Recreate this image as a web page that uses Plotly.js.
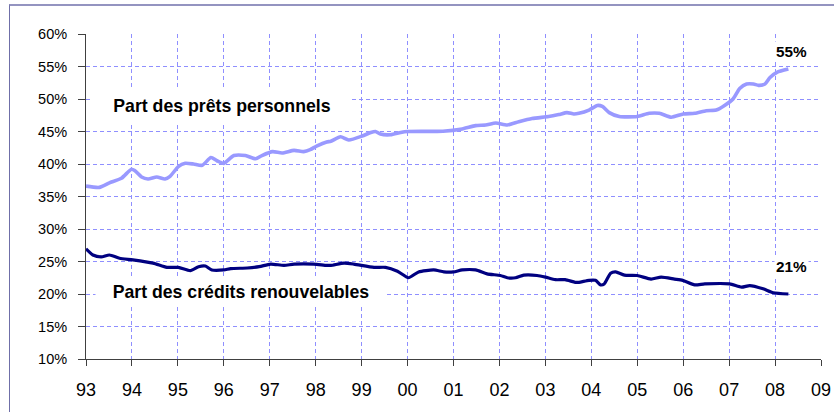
<!DOCTYPE html>
<html>
<head>
<meta charset="utf-8">
<script src="https://cdn.plot.ly/plotly-3.0.1.min.js"></script>
<style>
  html, body { margin: 0; padding: 0; background: #ffffff; }
  #wrap { position: relative; width: 834px; height: 412px; overflow: hidden; }
  #chart { position: absolute; left: 0; top: 0; width: 834px; height: 412px; }
  #frame { position: absolute; left: 9px; top: 4px; width: 900px; height: 500px;
           border-left: 1px solid #6f6fa8; border-top: 2px solid #9494c0; pointer-events: none; }
</style>
</head>
<body>
<div id="wrap"><div id="chart"></div><div id="frame"></div></div>
<script>
// Tick labels
const tickYears = [1993,1994,1995,1996,1997,1998,1999,2000,2001,2002,2003,2004,2005,2006,2007,2008,2009];
const tickLabels = ['93','94','95','96','97','98','99','00','01','02','03','04','05','06','07','08','09'];

// Part des prêts personnels (%)
const pretsYears = [1993.00,1993.29,1993.51,1993.77,1993.99,1994.06,1994.21,1994.35,1994.54,1994.72,1994.83,
  1995.01,1995.16,1995.34,1995.53,1995.72,1995.85,1996.00,1996.22,1996.47,1996.69,1996.83,1997.06,1997.27,
  1997.53,1997.74,1997.88,1998.03,1998.24,1998.33,1998.54,1998.72,1999.01,1999.20,1999.30,1999.41,1999.63,
  1999.85,2000.00,2000.77,2001.19,2001.48,2001.70,2001.92,2002.17,2002.42,2002.71,2003.07,2003.29,2003.47,
  2003.62,2003.73,2003.95,2004.13,2004.24,2004.39,2004.61,2005.00,2005.26,2005.48,2005.74,2006.00,2006.25,
  2006.50,2006.72,2006.90,2007.09,2007.23,2007.38,2007.53,2007.64,2007.78,2007.89,2008.04,2008.29];
const pretsValues = [36.6,36.4,37.1,37.8,39.2,39.0,38.0,37.7,38.0,37.7,38.1,
  39.6,40.1,40.0,39.8,41.0,40.5,40.1,41.3,41.3,40.8,41.3,41.9,41.7,
  42.1,41.9,42.2,42.8,43.4,43.5,44.2,43.7,44.3,44.85,45.0,44.6,44.5,
  44.85,45.0,45.05,45.4,45.9,46.0,46.3,46.0,46.5,47.0,47.3,47.6,47.9,
  47.7,47.8,48.3,49.0,48.85,47.9,47.3,47.3,47.8,47.8,47.2,47.7,47.8,
  48.2,48.3,49.0,50.05,51.6,52.3,52.3,52.1,52.3,53.3,54.1,54.6];

// Part des crédits renouvelables (%)
const creditsYears = [1993.00,1993.15,1993.33,1993.51,1993.73,1994.02,1994.46,1994.76,1995.01,1995.27,1995.45,
  1995.60,1995.74,1996.00,1996.15,1996.51,1996.77,1997.02,1997.31,1997.53,1997.96,1998.24,1998.33,1998.62,
  1998.83,1999.27,1999.52,1999.78,2000.02,2000.24,2000.57,2000.79,2001.00,2001.19,2001.48,2001.73,2002.02,
  2002.17,2002.35,2002.53,2002.82,2003.00,2003.22,2003.43,2003.65,2003.73,2003.95,2004.09,2004.20,2004.28,
  2004.42,2004.53,2004.72,2005.00,2005.30,2005.52,2005.81,2005.99,2006.25,2006.47,2007.01,2007.27,2007.45,
  2007.74,2007.96,2008.29];
const creditsValues = [26.95,26.0,25.7,26.0,25.5,25.25,24.75,24.1,24.1,23.6,24.2,
  24.3,23.7,23.7,23.9,24.0,24.2,24.6,24.4,24.6,24.6,24.4,24.4,24.75,
  24.6,24.1,24.1,23.5,22.5,23.4,23.7,23.4,23.4,23.7,23.7,23.1,22.85,
  22.5,22.5,22.9,22.85,22.6,22.2,22.2,21.8,21.8,22.1,22.1,21.4,21.55,
  23.2,23.4,22.9,22.85,22.3,22.6,22.3,22.1,21.4,21.55,21.55,21.05,21.3,
  20.8,20.2,20.0];

const seriesNames = ['Part des prêts personnels', 'Part des crédits renouvelables'];
const endLabels = ['55%', '21%'];

const font = 'Arial, "Liberation Sans", sans-serif';

const traces = [
  { x: pretsYears, y: pretsValues, type: 'scatter', mode: 'lines', name: seriesNames[0],
    line: { color: '#9999ff', width: 3.6, shape: 'spline', smoothing: 0.6 }, hoverinfo: 'skip' },
  { x: creditsYears, y: creditsValues, type: 'scatter', mode: 'lines', name: seriesNames[1],
    line: { color: '#000080', width: 3.2, shape: 'spline', smoothing: 0.6 }, hoverinfo: 'skip' }
];

const layout = {
  width: 834, height: 412,
  margin: { l: 86, r: 13, t: 34, b: 53, pad: 0 },
  paper_bgcolor: '#ffffff', plot_bgcolor: '#ffffff',
  showlegend: false,
  font: { family: font, color: '#000000' },
  xaxis: {
    range: [1993, 2009], tickmode: 'array', tickvals: tickYears, ticktext: tickLabels,
    showgrid: true, gridcolor: '#8f8fff', griddash: '4px,3px', gridwidth: 1,
    showline: true, linecolor: '#404040', linewidth: 1,
    ticks: 'outside', ticklen: 6, tickcolor: '#404040', tickwidth: 1,
    tickfont: { family: font, size: 18, color: '#000000' },
    zeroline: false, fixedrange: true, ticklabelstandoff: 8
  },
  yaxis: {
    range: [10, 60], tickmode: 'linear', tick0: 10, dtick: 5, ticksuffix: '%',
    showgrid: true, gridcolor: '#8f8fff', griddash: '4px,3px', gridwidth: 1,
    showline: true, linecolor: '#404040', linewidth: 1,
    ticks: 'outside', ticklen: 7, tickcolor: '#404040', tickwidth: 1,
    tickfont: { family: font, size: 14.5, color: '#000000' },
    zeroline: false, fixedrange: true, ticklabelstandoff: 8
  },
  annotations: [
    { x: 1995.95, y: 48.9, xref: 'x', yref: 'y', text: '<b>' + seriesNames[0] + '</b>', showarrow: false,
      xanchor: 'center', yanchor: 'middle', width: 256, height: 32, bgcolor: '#ffffff',
      font: { family: font, size: 17.7, color: '#000000' } },
    { x: 1996.37, y: 20.38, xref: 'x', yref: 'y', text: '<b>' + seriesNames[1] + '</b>', showarrow: false,
      xanchor: 'center', yanchor: 'middle', width: 288, height: 27, bgcolor: '#ffffff',
      font: { family: font, size: 17.7, color: '#000000' } },
    { x: 2008.35, y: 57.35, xref: 'x', yref: 'y', text: '<b>' + endLabels[0] + '</b>', showarrow: false,
      xanchor: 'center', yanchor: 'middle', bgcolor: '#ffffff', borderpad: 1,
      font: { family: font, size: 15.3, color: '#000000' } },
    { x: 2008.35, y: 24.3, xref: 'x', yref: 'y', text: '<b>' + endLabels[1] + '</b>', showarrow: false,
      xanchor: 'center', yanchor: 'middle', bgcolor: '#ffffff', borderpad: 1,
      font: { family: font, size: 15.3, color: '#000000' } }
  ]
};

Plotly.newPlot('chart', traces, layout, { staticPlot: true, displayModeBar: false });
</script>
</body>
</html>
